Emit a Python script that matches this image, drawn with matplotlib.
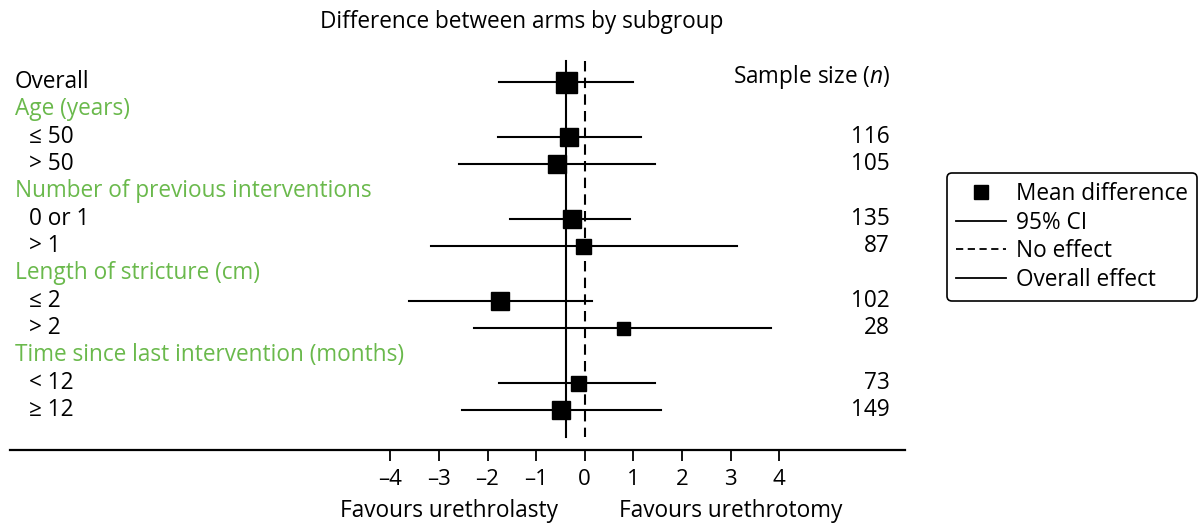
import matplotlib
matplotlib.use("Agg")
import matplotlib.pyplot as plt
from matplotlib.lines import Line2D

plt.rcParams['font.family'] = ['Open Sans', 'DejaVu Sans']
plt.rcParams['mathtext.fontset'] = 'custom'
plt.rcParams['mathtext.rm'] = 'Open Sans'
plt.rcParams['mathtext.it'] = 'Open Sans:italic'

GREEN = '#6ab94c'

# rows from top to bottom; headers have no estimate
labels = ['Overall', 'Age (years)', '\u2264 50', '> 50',
          'Number of previous interventions', '0 or 1', '> 1',
          'Length of stricture (cm)', '\u2264 2', '> 2',
          'Time since last intervention (months)', '< 12', '\u2265 12']
is_header = [False, True, False, False, True, False, False,
             True, False, False, True, False, False]
mean = [-0.38, None, -0.33, -0.56, None, -0.26, -0.03,
        None, -1.74, 0.79, None, -0.13, -0.49]
lower = [-1.76, None, -1.79, -2.58, None, -1.54, -3.17,
         None, -3.61, -2.28, None, -1.76, -2.52]
upper = [0.99, None, 1.15, 1.44, None, 0.93, 3.13,
         None, 0.15, 3.83, None, 1.44, 1.56]
sample_n = [None, None, 116, 105, None, 135, 87,
            None, 102, 28, None, 73, 149]
overall_effect = -0.38
ticks = [-4, -3, -2, -1, 0, 1, 2, 3, 4]
tick_labels = ['\u20134', '\u20133', '\u20132', '\u20131', '0', '1', '2', '3', '4']

# box side in pixels for each estimate
box_px = [21, None, 18, 18, None, 18, 15, None, 18, 13, None, 15, 18]

W, H = 1203, 523
fig = plt.figure(figsize=(W / 100, H / 100), dpi=100)

# axes spans the forest area; bottom spine is the x axis
ax_l, ax_r, ax_t, ax_b = 10, 905, 50, 450
ax = fig.add_axes([ax_l / W, 1 - ax_b / H, (ax_r - ax_l) / W, (ax_b - ax_t) / H])
x0, unit = 584.7, 48.6
ax.set_xlim((ax_l - x0) / unit, (ax_r - x0) / unit)
row0, step = 82, 27.33
ax.set_ylim((ax_b - row0) / step, (ax_t - row0) / step)

for s in ['top', 'right', 'left']:
    ax.spines[s].set_visible(False)
ax.spines['bottom'].set_linewidth(1.6)
ax.set_yticks([])
ax.set_xticks(ticks)
ax.set_xticklabels(tick_labels)
ax.tick_params(axis='x', direction='out', length=8, width=1.3,
               labelsize=16, pad=6)

fs = 16.3
x_lab_head = (15 - x0) / unit
x_lab_sub = (29 - x0) / unit
x_n = (890 - x0) / unit

for i, lab in enumerate(labels):
    if is_header[i]:
        ax.text(x_lab_head, i, lab, color=GREEN, fontsize=fs, va='center', ha='left')
    else:
        xl = x_lab_head if i == 0 else x_lab_sub
        ax.text(xl, i, lab, color='black', fontsize=fs, va='center', ha='left')
    if mean[i] is not None:
        ax.plot([lower[i], upper[i]], [i, i], color='black', lw=1.5, zorder=2)
        ax.plot(mean[i], i, marker='s', color='black',
                markersize=box_px[i] * 0.72, zorder=3)
    if sample_n[i] is not None:
        ax.text(x_n, i, str(sample_n[i]), fontsize=fs, va='center', ha='right')

ax.text(x_n, -0.2, 'Sample size ($n$)', fontsize=fs, va='center', ha='right')

y_top, y_bot = (61 - row0) / step, (437 - row0) / step
ax.plot([overall_effect, overall_effect], [y_top, y_bot], color='black', lw=1.5, zorder=1)
ax.plot([0, 0], [y_top, y_bot], color='black', lw=1.5, ls=(0, (5, 3)), zorder=1)

fig.text(522 / W, 1 - 22 / H, 'Difference between arms by subgroup',
         fontsize=fs, ha='center', va='center')
fig.text(449 / W, 1 - 511 / H, 'Favours urethrolasty', fontsize=fs, ha='center', va='center')
fig.text(731 / W, 1 - 511 / H, 'Favours urethrotomy', fontsize=fs, ha='center', va='center')

handles = [
    Line2D([], [], color='black', marker='s', ls='none', markersize=10),
    Line2D([], [], color='black', lw=1.3),
    Line2D([], [], color='black', lw=1.3, ls=(0, (4, 2.5))),
    Line2D([], [], color='black', lw=1.3),
]
leg = fig.legend(handles, ['Mean difference', '95% CI', 'No effect', 'Overall effect'],
                 loc='upper left', bbox_to_anchor=(947 / W, 1 - 173 / H),
                 bbox_transform=fig.transFigure, fontsize=fs, frameon=True,
                 fancybox=True, handlelength=2.2, handletextpad=0.45,
                 labelspacing=0.2, borderpad=0.4, borderaxespad=0)
leg.get_frame().set_edgecolor('black')
leg.get_frame().set_linewidth(1.2)
leg.get_frame().set_alpha(1)

fig.savefig('out.png', dpi=100)
